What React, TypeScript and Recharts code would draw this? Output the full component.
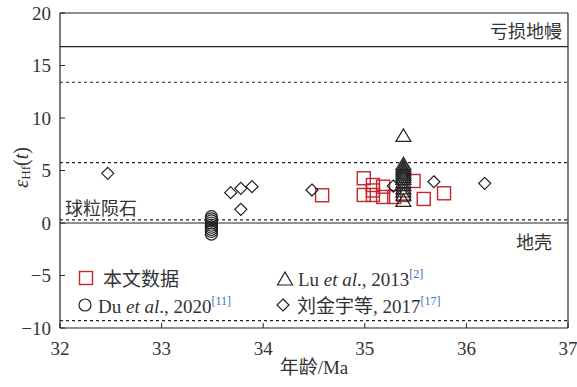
import React from 'react';
import { ScatterChart, Scatter, XAxis, YAxis, ReferenceLine, Legend } from 'recharts';

// ---- data ----
const xTicks = [32, 33, 34, 35, 36, 37];
const yTicks = [-10, -5, 0, 5, 10, 15, 20];

// 本文数据 (this study)
const thisStudyAge = [34.58, 34.99, 34.99, 35.08, 35.08, 35.08, 35.18, 35.18, 35.29, 35.38, 35.48, 35.58, 35.78];
const thisStudyEHf = [2.64, 4.26, 2.67, 3.62, 3.1, 2.67, 3.46, 2.48, 2.48, 2.67, 4.0, 2.29, 2.83];

// Lu et al., 2013
const luAge = [35.38, 35.38, 35.38, 35.38, 35.38, 35.38, 35.38, 35.38, 35.38, 35.38, 35.38, 35.38, 35.38, 35.38, 35.38];
const luEHf = [8.3, 5.6, 5.4, 5.2, 5.0, 4.8, 4.6, 4.4, 4.2, 3.9, 3.6, 3.3, 3.0, 2.7, 2.1];

// Du et al., 2020
const duAge = [33.49, 33.49, 33.49, 33.49, 33.49, 33.49, 33.49, 33.49, 33.49];
const duEHf = [0.6, 0.4, 0.2, 0.0, -0.2, -0.4, -0.6, -0.8, -1.05];

// 刘金宇等, 2017
const liuAge = [32.47, 33.68, 33.78, 33.89, 33.78, 34.48, 35.28, 35.68, 36.18];
const liuEHf = [4.73, 2.89, 3.3, 3.46, 1.3, 3.14, 3.52, 3.93, 3.78];

// reference levels
const solidLevels = [16.8, 0];
const dashedLevels = [13.4, 5.75, 0.3, -9.3];

const toPoints = (xs: number[], ys: number[]) => xs.map((x, i) => ({ age: x, ehf: ys[i] }));

const SERIF = "'Liberation Serif', 'Noto Sans CJK SC', serif";
const CJK = "'Noto Sans CJK SC', 'Liberation Serif', sans-serif";
const RED = '#c1272d';
const INK = '#222';
const TXT = '#333';
const BLUE = '#3e6fb5';

const SquareShape = (p: any) => (
  <rect x={p.cx - 6.5} y={p.cy - 6.5} width={13} height={13} fill="none" stroke={RED} strokeWidth={1.4} />
);
const TriShape = (p: any) => (
  <polygon
    points={`${p.cx},${p.cy - 7} ${p.cx - 7.5},${p.cy + 5.5} ${p.cx + 7.5},${p.cy + 5.5}`}
    fill="none"
    stroke={INK}
    strokeWidth={1.2}
  />
);
const CircleShape = (p: any) => <circle cx={p.cx} cy={p.cy} r={6} fill="none" stroke={INK} strokeWidth={1.2} />;
const DiamondShape = (p: any) => (
  <polygon
    points={`${p.cx},${p.cy - 6} ${p.cx + 6},${p.cy} ${p.cx},${p.cy + 6} ${p.cx - 6},${p.cy}`}
    fill="none"
    stroke={INK}
    strokeWidth={1.2}
  />
);

const fmt = (v: number) => String(v).replace('-', '\u2212');

const XTick = (p: any) => {
  const { x, y, payload } = p;
  return (
    <g>
      <line x1={x} x2={x} y1={y} y2={y - 5} stroke={INK} strokeWidth={1} />
      <text x={x} y={y + 27} textAnchor="middle" fontFamily={SERIF} fontSize={19} fill={TXT}>
        {fmt(payload.value)}
      </text>
    </g>
  );
};

const YTick = (p: any) => {
  const { x, y, payload } = p;
  return (
    <g>
      <line x1={x} x2={x + 5} y1={y} y2={y} stroke={INK} strokeWidth={1} />
      <text x={x - 9} y={y + 6.5} textAnchor="end" fontFamily={SERIF} fontSize={19} fill={TXT}>
        {fmt(payload.value)}
      </text>
    </g>
  );
};

const XLabel = (p: any) => {
  const vb = p.viewBox || {};
  return (
    <text x={vb.x + vb.width / 2} y={vb.y + 46} textAnchor="middle" fontFamily={SERIF} fontSize={19} fill={TXT}>
      年龄/Ma
    </text>
  );
};

const YLabel = (p: any) => {
  const vb = p.viewBox || {};
  const cx = 21;
  const cy = vb.y + vb.height / 2 - 3;
  return (
    <text
      x={cx}
      y={cy}
      transform={`rotate(-90, ${cx}, ${cy})`}
      textAnchor="middle"
      dominantBaseline="central"
      fontFamily={SERIF}
      fontSize={20}
      fill={TXT}
    >
      <tspan fontStyle="italic" fontSize={21}>ε</tspan>
      <tspan fontSize={13} dy={4}>Hf</tspan>
      <tspan dy={-4}>(</tspan>
      <tspan fontStyle="italic">t</tspan>
      <tspan>)</tspan>
    </text>
  );
};

const TopRightLabel = (p: any) => {
  const vb = p.viewBox || {};
  return (
    <text x={vb.x + vb.width - 6} y={vb.y - 9} textAnchor="end" fontFamily={CJK} fontSize={18} fill={TXT}>
      亏损地幔
    </text>
  );
};
const ChondriteLabel = (p: any) => {
  const vb = p.viewBox || {};
  return (
    <text x={vb.x + 5} y={vb.y - 5} textAnchor="start" fontFamily={CJK} fontSize={18} fill={TXT}>
      球粒陨石
    </text>
  );
};
const CrustLabel = (p: any) => {
  const vb = p.viewBox || {};
  return (
    <text x={vb.x + vb.width - 16} y={vb.y + 26} textAnchor="end" fontFamily={CJK} fontSize={18} fill={TXT}>
      地壳
    </text>
  );
};

const LegendContent = () => (
  <svg width={577} height={387} style={{ position: 'absolute', left: 0, top: 0, pointerEvents: 'none' }}>
    <rect x={79.5} y={271.5} width={13} height={13} fill="none" stroke={RED} strokeWidth={1.4} />
    <text x={103} y={286} fontFamily={CJK} fontSize={19} fill={TXT}>本文数据</text>

    <polygon points="285,272 277.5,285 292.5,285" fill="none" stroke={INK} strokeWidth={1.2} />
    <text x={298} y={286} fontFamily={SERIF} fontSize={19} fill={TXT}>
      Lu <tspan fontStyle="italic">et al</tspan>., 2013
      <tspan fontSize={12} dy={-8} fill={BLUE}>[2]</tspan>
    </text>

    <circle cx={85} cy={305} r={6} fill="none" stroke={INK} strokeWidth={1.2} />
    <text x={98} y={313} fontFamily={SERIF} fontSize={19} fill={TXT}>
      Du <tspan fontStyle="italic">et al</tspan>., 2020
      <tspan fontSize={12} dy={-8} fill={BLUE}>[11]</tspan>
    </text>

    <polygon points="283,299 289,305 283,311 277,305" fill="none" stroke={INK} strokeWidth={1.2} />
    <text x={297} y={313} fontFamily={CJK} fontSize={19} fill={TXT}>
      刘金宇等<tspan fontFamily={SERIF}>, 2017</tspan>
      <tspan fontFamily={SERIF} fontSize={12} dy={-8} fill={BLUE}>[17]</tspan>
    </text>
  </svg>
);

export default function App() {
  return (
    <div style={{ position: 'absolute', left: 0, top: 0, width: 577, height: 387, background: '#fff' }}>
      <ScatterChart width={577} height={387} margin={{ top: 13, right: 9, bottom: 0, left: 0 }}>
        <XAxis
          type="number"
          dataKey="age"
          domain={[32, 37]}
          ticks={xTicks}
          interval={0}
          height={59}
          tickSize={0}
          tickMargin={0}
          tickLine={false}
          tick={<XTick />}
          axisLine={{ stroke: INK, strokeWidth: 1.2 }}
          allowDataOverflow
          label={<XLabel />}
        />
        <YAxis
          type="number"
          dataKey="ehf"
          domain={[-10, 20]}
          ticks={yTicks}
          interval={0}
          width={60}
          tickSize={0}
          tickMargin={0}
          tickLine={false}
          tick={<YTick />}
          axisLine={{ stroke: INK, strokeWidth: 1.2 }}
          allowDataOverflow
          label={<YLabel />}
        />
        <ReferenceLine y={20} stroke={INK} strokeWidth={1.2} />
        <ReferenceLine x={37} stroke={INK} strokeWidth={1.2} />
        {dashedLevels.map((v, i) => (
          <ReferenceLine
            key={'d' + i}
            y={v}
            stroke={INK}
            strokeWidth={1.1}
            strokeDasharray="3 3"
            label={i === 2 ? <ChondriteLabel /> : undefined}
          />
        ))}
        {solidLevels.map((v, i) => (
          <ReferenceLine
            key={'s' + i}
            y={v}
            stroke={INK}
            strokeWidth={1.2}
            label={i === 0 ? <TopRightLabel /> : <CrustLabel />}
          />
        ))}
        <Scatter data={toPoints(thisStudyAge, thisStudyEHf)} shape={<SquareShape />} isAnimationActive={false} />
        <Scatter data={toPoints(luAge, luEHf)} shape={<TriShape />} isAnimationActive={false} />
        <Scatter data={toPoints(duAge, duEHf)} shape={<CircleShape />} isAnimationActive={false} />
        <Scatter data={toPoints(liuAge, liuEHf)} shape={<DiamondShape />} isAnimationActive={false} />
        <Legend
          layout="horizontal"
          verticalAlign="middle"
          align="center"
          content={<LegendContent />}
          wrapperStyle={{ position: 'absolute', left: 0, top: 0, width: 577, height: 387, pointerEvents: 'none' }}
        />
      </ScatterChart>
    </div>
  );
}
